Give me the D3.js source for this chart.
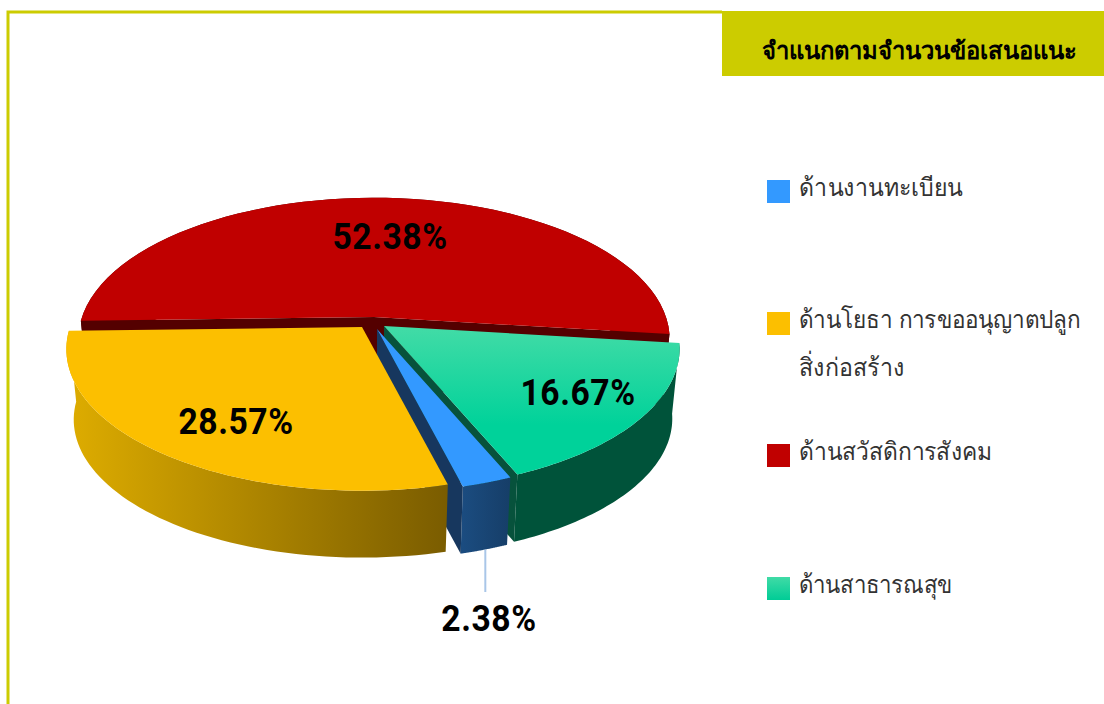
<!DOCTYPE html>
<html lang="th">
<head>
<meta charset="utf-8">
<script src="https://cdn.jsdelivr.net/npm/d3@7"></script>
<style>
  html, body { margin: 0; padding: 0; background: #fff; }
  svg { display: block; }
  text { font-family: "Noto Sans", Roboto, sans-serif; }
  .pct { font-family: Roboto, sans-serif; font-weight: 700; font-size: 37px; text-anchor: middle; fill: #000; letter-spacing: 0.6px; }
</style>
</head>
<body>
<div id="chart"></div>
<script>
// Data, in legend order (also the clockwise order of the slices)
const categories = ['ด้านงานทะเบียน', 'ด้านโยธา การขออนุญาตปลูก', 'ด้านสวัสดิการสังคม', 'ด้านสาธารณสุข'];
const values = [2.38, 28.57, 52.38, 16.67];
const valueLabels = ['2.38%', '28.57%', '52.38%', '16.67%'];
const title = 'จำแนกตามจำนวนข้อเสนอแนะ';
const legendExtraLine = 'สิ่งก่อสร้าง';

const width = 1104;
const height = 704;
const FRAME = '#cccc00';

// Colours per slice
const topColors = ['#3399ff', '#fcbf00', '#c00000', 'url(#greenTop)'];
const swatchColors = ['#3399ff', '#fcbf00', '#c00000', 'url(#greenSwatch)'];
const sideColors = ['url(#blueSide)', 'url(#yellowSide)', '#540000', '#00533a'];
const cutColors = ['#17375e', '#7f6000', '#540000', '#07523c'];

// Where each exploded slice has its apex, and where its label sits
const apex = [[377, 329], [362, 327], [374, 317], [384, 326]];
const labelPos = [[489, 631], [236, 434], [390, 249], [578, 405]];
const legendY = [191, 323, 455, 588];
const legendWidths = [163, 283, 191, 154];

// Pie geometry: tilted disc with a little perspective
const startDeg = 157;
const persp = 0.157;
const shrink = 0.025;
const thickness = 71;
const rx = d3.scaleLinear().domain([-1, 1]).range([-292, 292]);
const ry = d3.scaleLinear().domain([-1, 1]).range([-138, 138]);

const svg = d3.select('#chart').append('svg')
  .attr('width', width)
  .attr('height', height)
  .attr('viewBox', `0 0 ${width} ${height}`);

const defs = svg.append('defs');
const addGradient = (id, x1, y1, x2, y2, stops) => {
  const g = defs.append('linearGradient').attr('id', id)
    .attr('gradientUnits', 'userSpaceOnUse')
    .attr('x1', x1).attr('y1', y1).attr('x2', x2).attr('y2', y2);
  stops.forEach(([o, c]) => g.append('stop').attr('offset', o).attr('stop-color', c));
};
addGradient('greenTop', 0, 330, 0, 425, [[0, '#40dba6'], [1, '#00d29a']]);
addGradient('greenSwatch', 0, -11, 0, 12, [[0, '#40dba6'], [1, '#00cc96']]);
addGradient('yellowSide', 75, 0, 448, 0, [[0, '#dcab00'], [1, '#7a5c00']]);
addGradient('blueSide', 462, 0, 510, 0, [[0, '#1b4c80'], [1, '#163e68']]);

// Frame and header
svg.append('path')
  .attr('d', d3.line()([[8, height], [8, 12], [722, 12]]))
  .attr('fill', 'none')
  .attr('stroke', FRAME)
  .attr('stroke-width', 3);
svg.append('rect')
  .attr('x', 722).attr('y', 11)
  .attr('width', width - 722).attr('height', 65)
  .attr('fill', FRAME);
svg.append('text')
  .attr('x', 919).attr('y', 59)
  .attr('text-anchor', 'middle')
  .attr('font-size', 23.8)
  .attr('font-weight', 700)
  .attr('fill', '#000')
  .text(title);

// Pie
const pie = d3.pie().sort(null)
  .startAngle(startDeg * Math.PI / 180)
  .endAngle((startDeg + 360) * Math.PI / 180);
const arcs = pie(values);

// t = 0 on the top face, t = 1 on the bottom face
const project = (i, angle, r, t) => {
  const X = r * Math.sin(angle);
  const Z = -r * Math.cos(angle);
  const s = 1 / (1 - persp * Z) * (1 - shrink * t);
  return [apex[i][0] + rx(X * s), apex[i][1] + ry(Z * s) + thickness * t];
};

const outerEdge = (i, d, t) => d3.range(0, 61)
  .map(k => project(i, d.startAngle + (d.endAngle - d.startAngle) * k / 60, 1, t));

const closed = d3.line().curve(d3.curveLinearClosed);

const cutFace = (i, angle) => [
  project(i, angle, 0, 0),
  project(i, angle, 1, 0),
  project(i, angle, 1, 1),
  project(i, angle, 0, 1)
];

// Painted back to front
const drawOrder = [2, 3, 0, 1];
drawOrder.forEach(i => {
  const d = arcs[i];
  const top = outerEdge(i, d, 0);
  const bottom = outerEdge(i, d, 1);
  const g = svg.append('g').attr('class', 'slice');

  g.append('path')
    .attr('d', closed(top.concat(bottom.slice().reverse())))
    .attr('fill', sideColors[i]);

  // Only cut faces turned towards the viewer get drawn
  const startFace = cutFace(i, d.startAngle);
  const endFace = cutFace(i, d.endAngle);
  if (d3.polygonArea(startFace) > 0) {
    g.append('path').attr('d', closed(startFace)).attr('fill', cutColors[i]);
  }
  if (d3.polygonArea(endFace) < 0) {
    g.append('path').attr('d', closed(endFace)).attr('fill', cutColors[i]);
  }

  g.append('path')
    .attr('d', closed([project(i, 0, 0, 0)].concat(top)))
    .attr('fill', topColors[i]);
});

// Leader line for the smallest slice
const smallMid = (arcs[0].startAngle + arcs[0].endAngle) / 2;
const leaderStart = project(0, smallMid, 1, 1);
svg.append('line')
  .attr('x1', leaderStart[0] + 1).attr('y1', leaderStart[1])
  .attr('x2', leaderStart[0] + 1).attr('y2', 592)
  .attr('stroke', '#a9c6e8')
  .attr('stroke-width', 2);

svg.selectAll('text.pct')
  .data(valueLabels)
  .enter()
  .append('text')
  .attr('class', 'pct')
  .attr('transform', (d, i) => `translate(${labelPos[i][0]},${labelPos[i][1]}) scale(0.91,1)`)
  .text(d => d);

// Squeeze a text sideways until it is as wide as in the reference
const fitWidth = (node, x, y, target) => {
  const scale = target / node.getComputedTextLength();
  return `translate(${x},${y}) scale(${scale},1)`;
};

// Legend
const legend = svg.selectAll('g.legend')
  .data(categories)
  .enter()
  .append('g')
  .attr('class', 'legend')
  .attr('transform', (d, i) => `translate(767,${legendY[i]})`);
legend.append('rect')
  .attr('y', -11)
  .attr('width', 23).attr('height', 23)
  .attr('fill', (d, i) => swatchColors[i]);
legend.append('text')
  .attr('font-size', 25)
  .attr('fill', '#333')
  .text(d => d)
  .attr('transform', function (d, i) { return fitWidth(this, 32, 5, legendWidths[i]); });
svg.append('text')
  .attr('font-size', 25)
  .attr('fill', '#333')
  .text(legendExtraLine)
  .attr('transform', function () { return fitWidth(this, 799, 376, 103); });
</script>
</body>
</html>
